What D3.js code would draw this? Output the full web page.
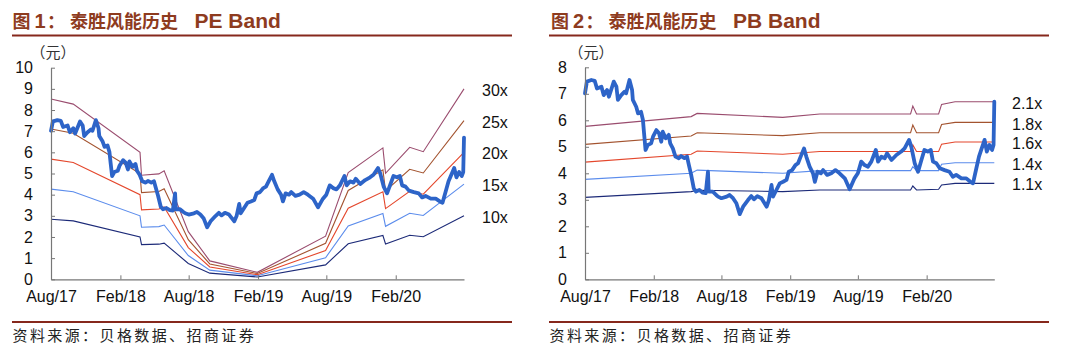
<!DOCTYPE html>
<html><head><meta charset="utf-8">
<script src="https://cdn.jsdelivr.net/npm/d3@7"></script>
<style>body{margin:0;background:#fff} svg{display:block}</style>
</head><body>
<svg id="c" width="1080" height="357"></svg>
<script>
// ---------- data ----------
const xTickDates = ["2017-08-01","2018-02-01","2018-08-01","2019-02-01","2019-08-01","2020-02-01"];
const xTickLabels = ["Aug/17","Feb/18","Aug/18","Feb/19","Aug/19","Feb/20"];
const domainDates = ["2017-08-01","2020-07-31"];

const priceDates = ["2017-08-01","2017-08-06","2017-08-18","2017-08-27","2017-09-02","2017-09-14","2017-09-20","2017-09-29","2017-10-04","2017-10-17",
"2017-10-24","2017-10-28","2017-11-06","2017-11-15","2017-11-19","2017-11-28","2017-12-05","2017-12-07","2017-12-16","2017-12-21",
"2017-12-29","2018-01-03","2018-01-06","2018-01-10","2018-01-16","2018-01-25","2018-01-30","2018-02-08","2018-02-15","2018-02-21",
"2018-02-25","2018-03-05","2018-03-13","2018-03-17","2018-03-24","2018-03-31","2018-04-09","2018-04-15","2018-04-24","2018-05-01",
"2018-05-06","2018-05-12","2018-05-19","2018-05-25","2018-06-03","2018-06-12","2018-06-20","2018-06-26","2018-06-28","2018-07-09",
"2018-07-18","2018-07-23","2018-08-01","2018-08-15","2018-08-23","2018-09-01","2018-09-10","2018-09-19","2018-09-28","2018-10-11",
"2018-10-20","2018-10-27","2018-11-05","2018-11-16","2018-11-30","2018-12-06","2018-12-13","2018-12-17","2018-12-26","2019-01-04",
"2019-01-13","2019-01-22","2019-01-28","2019-02-06","2019-02-15","2019-02-22","2019-03-01","2019-03-10","2019-03-16","2019-03-25",
"2019-04-03","2019-04-08","2019-04-15","2019-04-24","2019-04-30","2019-05-11","2019-05-22","2019-06-02","2019-06-13","2019-06-27",
"2019-07-10","2019-07-23","2019-08-01","2019-08-10","2019-08-19","2019-08-28","2019-09-06","2019-09-18","2019-09-24","2019-10-03",
"2019-10-12","2019-10-18","2019-10-30","2019-11-12","2019-11-25","2019-12-04","2019-12-16","2019-12-22","2019-12-31","2020-01-09",
"2020-01-18","2020-01-26","2020-02-04","2020-02-12","2020-02-18","2020-02-27","2020-03-07","2020-03-20","2020-04-02","2020-04-11",
"2020-04-20","2020-05-04","2020-05-17","2020-05-28","2020-06-04","2020-06-13","2020-06-20","2020-06-26","2020-07-05","2020-07-11",
"2020-07-18","2020-07-25","2020-07-29","2020-07-31"];
const priceValues = [7.02,7.46,7.52,7.49,7.20,7.27,6.95,7.14,6.89,7.46,
7.27,6.77,6.95,7.08,7.02,7.52,7.14,6.77,6.51,6.26,
6.32,6.01,5.51,4.88,5.07,5.13,5.38,5.63,5.51,5.19,
5.57,5.32,5.45,5.13,4.94,4.63,4.57,4.65,4.57,4.63,
4.31,3.94,3.43,3.31,3.37,3.27,3.25,4.06,3.31,3.31,
3.18,3.12,3.06,3.12,3.18,3.06,2.87,2.46,2.74,2.99,
3.14,3.02,3.14,3.06,2.74,2.99,3.56,3.12,3.37,3.62,
3.68,3.75,4.06,4.12,4.31,4.38,4.63,4.94,4.63,4.25,
4.00,3.68,4.06,4.00,4.12,3.94,4.00,4.12,4.00,3.81,
3.40,3.81,4.00,4.44,4.31,4.25,4.44,4.88,4.44,4.63,
4.57,4.75,4.50,4.69,4.82,4.94,5.26,5.00,4.38,4.06,
4.50,4.88,4.82,4.88,4.44,4.38,4.19,4.12,4.06,3.87,
3.94,3.81,3.81,3.68,3.62,4.19,4.63,4.88,5.26,4.82,
5.07,4.88,5.07,6.70];

// EPS (TTM) behind the PE band lines
const epsDates = ["2017-08-01","2017-09-29","2018-03-25","2018-03-29","2018-05-14","2018-05-28","2018-07-31","2018-09-26",
"2019-01-30","2019-07-30","2019-09-28","2019-12-29","2020-01-05","2020-03-09","2020-04-14","2020-07-31"];
const epsValues = [0.284,0.276,0.200,0.164,0.166,0.171,0.075,0.029,0.011,0.068,0.168,0.207,0.167,0.208,0.201,0.300];
const peMultiples = [10,15,20,25,30];
const peLabels = ["10x","15x","20x","25x","30x"];

// PB band lines
const pbDates = ["2017-08-01","2018-05-12","2018-05-28","2019-01-12","2019-04-21","2019-12-20","2019-12-26","2020-01-05",
"2020-03-04","2020-03-12","2020-04-17","2020-07-31"];
const pb11 = [3.09,3.31,3.36,3.31,3.37,3.37,3.52,3.37,3.40,3.56,3.62,3.62];
const pb14 = [3.77,4.00,4.12,4.00,4.10,4.10,4.25,4.10,4.10,4.34,4.40,4.40];
const pb16 = [4.42,4.72,4.84,4.72,4.82,4.82,5.07,4.82,4.82,5.10,5.18,5.18];
const pb18 = [5.09,5.41,5.53,5.42,5.53,5.53,5.82,5.53,5.53,5.84,5.92,5.92];
const pb21 = [5.77,6.14,6.26,6.11,6.24,6.24,6.54,6.24,6.24,6.60,6.70,6.70];
const pbLabels = ["1.1x","1.4x","1.6x","1.8x","2.1x"];

const peTicks = [0,1,2,3,4,5,6,7,8,9,10];
const pbTicks = [0,1,2,3,4,5,6,7,8];

// ---------- styles ----------
const bandColors = ["#1c2a78","#5b8cec","#e4472c","#a3532f","#9a4c6e"];
const priceColor = "#2d64c8";
const titleColor = "#8e3b1e";
const ruleColor = "#86281c";
const latin = "'Liberation Sans', Arial, 'Noto Sans CJK SC', sans-serif";
const cjk = "'Noto Sans CJK SC', sans-serif";

const parse = d3.utcParse("%Y-%m-%d");
const svg = d3.select("#c");

function panel(o) {
  const g = svg.append("g");
  // title
  const tx = o.titleX;
  const t = g.append("text").attr("y", 28)
    .attr("fill", titleColor).attr("font-weight", "bold").attr("font-family", latin);
  t.append("tspan").attr("x", tx - 0.5).attr("font-family", cjk).attr("font-size", 18).text("图");
  t.append("tspan").attr("x", tx + 21.5).attr("font-size", 20).text(o.num);
  t.append("tspan").attr("x", tx + 34).attr("font-family", cjk).attr("font-size", 18).text("：");
  t.append("tspan").attr("x", tx + 57).attr("font-family", cjk).attr("font-size", 18).text("泰胜风能历史");
  t.append("tspan").attr("x", tx + 181.5).attr("font-size", 21).text(o.titleLatin);
  g.append("line").attr("x1", o.ruleX1).attr("x2", o.ruleX1 + 500).attr("y1", 35.5).attr("y2", 35.5)
    .attr("stroke", ruleColor).attr("stroke-width", 2);
  g.append("line").attr("x1", o.ruleX1).attr("x2", o.ruleX1 + 500).attr("y1", 322).attr("y2", 322)
    .attr("stroke", ruleColor).attr("stroke-width", 2);
  g.append("text").attr("x", o.ruleX1 + 0.5).attr("y", 341).attr("font-family", cjk)
    .attr("font-size", 15).attr("letter-spacing", 2.4).attr("fill", "#222").text("资料来源：贝格数据、招商证券");
  g.append("text").attr("x", o.unitX).attr("y", 58).attr("font-family", cjk)
    .attr("font-size", 15).attr("fill", "#333").text("（元）");

  const x = d3.scaleUtc().domain(domainDates.map(parse)).range([o.x0, o.x1]);
  const y = d3.scaleLinear().domain([0, o.yMax]).range([279.3, o.yTop]);

  // bands
  o.bands.forEach((b, i) => {
    const line = d3.line().x(d => x(d[0])).y(d => y(d[1]));
    g.append("path").datum(b).attr("d", line).attr("fill", "none")
      .attr("stroke", bandColors[i]).attr("stroke-width", 1.1);
    const last = b[b.length - 1];
    g.append("text").attr("x", o.labelX).attr("y", y(last[1]) + 1.5).attr("dy", "0.35em")
      .attr("font-family", latin).attr("font-size", 16).attr("fill", "#111").text(o.labels[i]);
  });
  // price
  const pdata = priceDates.map((d, i) => [parse(d), priceValues[i]]);
  g.append("path").datum(pdata)
    .attr("d", d3.line().x(d => x(d[0])).y(d => y(d[1])))
    .attr("fill", "none").attr("stroke", priceColor).attr("stroke-width", 3.8)
    .attr("stroke-linejoin", "round").attr("stroke-linecap", "round");

  // axes
  const ya = g.append("g").attr("transform", `translate(${o.x0},0)`)
    .call(d3.axisLeft(y).tickValues(o.yTicks).tickFormat(d3.format("d")).tickSizeInner(-4).tickSizeOuter(0).tickPadding(18));
  const xa = g.append("g").attr("transform", "translate(0,279.3)")
    .call(d3.axisBottom(x).tickValues(xTickDates.map(parse)).tickFormat((d, i) => xTickLabels[i])
      .tickSizeInner(-4).tickSizeOuter(0).tickPadding(11));
  [ya, xa].forEach(a => {
    a.select(".domain").attr("stroke", "#777").attr("stroke-width", 1.2);
    a.selectAll(".tick line").attr("stroke", "#777");
    a.selectAll("text").attr("font-family", latin).attr("font-size", 16).attr("fill", "#111");
  });
}

const peBands = peMultiples.map(m => epsDates.map((d, i) => [parse(d), epsValues[i] * m]));
const pbBands = [pb11, pb14, pb16, pb18, pb21].map(arr => pbDates.map((d, i) => [parse(d), arr[i]]));

panel({num: "1", titleLatin: "PE Band", titleX: 13, ruleX1: 12, unitX: 30.5,
  x0: 51, x1: 464, yMax: 10, yTop: 67.7, yTicks: peTicks, bands: peBands, labels: peLabels, labelX: 482});
panel({num: "2", titleLatin: "PB Band", titleX: 551.5, ruleX1: 549, unitX: 568.5,
  x0: 585, x1: 994.3, yMax: 8, yTop: 67.3, yTicks: pbTicks, bands: pbBands, labels: pbLabels, labelX: 1012});
</script>
</body></html>
